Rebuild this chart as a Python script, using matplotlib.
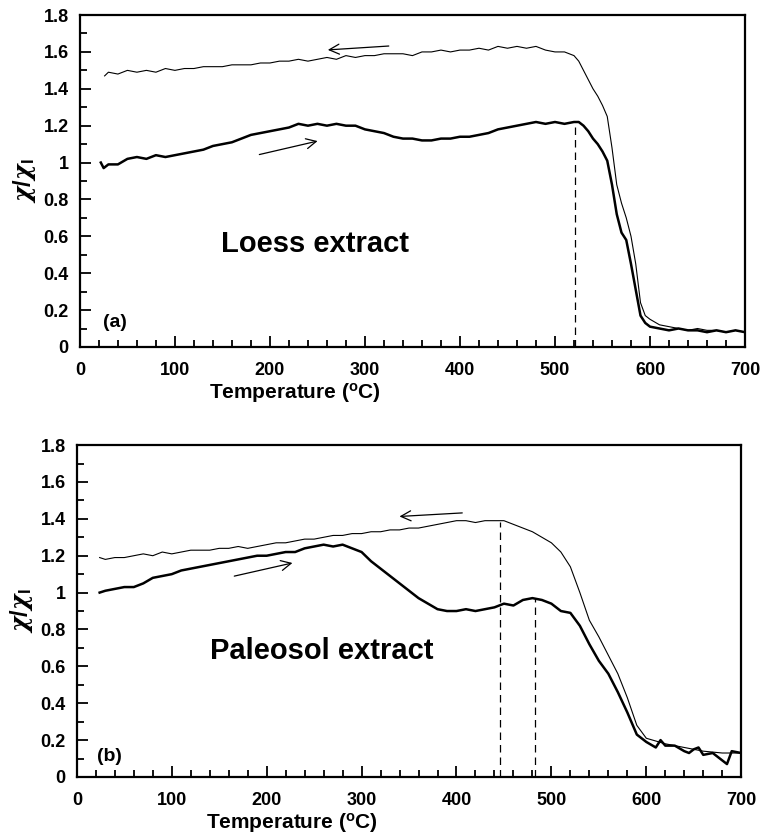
import matplotlib
matplotlib.use("Agg")
import matplotlib.pyplot as plt
from matplotlib.ticker import MultipleLocator

plt.rcParams['font.family'] = ['Liberation Sans', 'DejaVu Sans']
plt.rcParams['font.weight'] = 'bold'
plt.rcParams['mathtext.fontset'] = 'custom'
plt.rcParams['mathtext.rm'] = 'Liberation Sans:bold'
plt.rcParams['mathtext.it'] = 'DejaVu Serif:italic'

# (a) loess extract: heating (thick) and cooling (thin)
loess_heat_t = [22, 25, 30, 40, 50, 60, 70, 80, 90, 100, 110, 120, 130, 140, 150, 160, 170, 180, 190, 200,
                210, 220, 230, 240, 250, 260, 270, 280, 290, 300, 310, 320, 330, 340, 350, 360, 370, 380, 390, 400,
                410, 420, 430, 440, 450, 460, 470, 480, 490, 500, 510, 520, 525, 530, 535, 540, 545, 550, 555, 560,
                565, 570, 575, 580, 585, 590, 595, 600, 610, 620, 630, 640, 650, 660, 670, 680, 690, 700]
loess_heat_v = [1.00, 0.97, 0.99, 0.99, 1.02, 1.03, 1.02, 1.04, 1.03, 1.04, 1.05, 1.06, 1.07, 1.09, 1.10, 1.11, 1.13, 1.15, 1.16, 1.17,
                1.18, 1.19, 1.21, 1.20, 1.21, 1.20, 1.21, 1.20, 1.20, 1.18, 1.17, 1.16, 1.14, 1.13, 1.13, 1.12, 1.12, 1.13, 1.13, 1.14,
                1.14, 1.15, 1.16, 1.18, 1.19, 1.20, 1.21, 1.22, 1.21, 1.22, 1.21, 1.22, 1.22, 1.20, 1.17, 1.13, 1.10, 1.06, 1.01, 0.88,
                0.72, 0.62, 0.58, 0.45, 0.31, 0.17, 0.13, 0.11, 0.10, 0.09, 0.10, 0.09, 0.09, 0.08, 0.09, 0.08, 0.09, 0.08]

loess_cool_t = [26, 30, 40, 50, 60, 70, 80, 90, 100, 110, 120, 130, 140, 150, 160, 170, 180, 190, 200, 210,
                220, 230, 240, 250, 260, 270, 280, 290, 300, 310, 320, 330, 340, 350, 360, 370, 380, 390, 400, 410,
                420, 430, 440, 450, 460, 470, 480, 490, 500, 510, 515, 520, 525, 530, 535, 540, 545, 550, 555, 560,
                565, 570, 575, 580, 585, 590, 595, 600, 610, 620, 630, 640, 650, 660, 670, 680, 690, 700]
loess_cool_v = [1.47, 1.49, 1.48, 1.50, 1.49, 1.50, 1.49, 1.51, 1.50, 1.51, 1.51, 1.52, 1.52, 1.52, 1.53, 1.53, 1.53, 1.54, 1.54, 1.55,
                1.55, 1.56, 1.55, 1.56, 1.57, 1.56, 1.58, 1.57, 1.58, 1.58, 1.59, 1.59, 1.59, 1.58, 1.60, 1.60, 1.61, 1.60, 1.61, 1.61,
                1.62, 1.61, 1.63, 1.62, 1.63, 1.62, 1.63, 1.61, 1.60, 1.60, 1.59, 1.58, 1.55, 1.50, 1.45, 1.40, 1.36, 1.31, 1.25, 1.08,
                0.88, 0.78, 0.70, 0.60, 0.45, 0.24, 0.17, 0.15, 0.12, 0.11, 0.10, 0.09, 0.10, 0.09, 0.09, 0.08, 0.09, 0.08]

# (b) paleosol extract
paleo_heat_t = [24, 30, 40, 50, 60, 70, 80, 90, 100, 110, 120, 130, 140, 150, 160, 170, 180, 190, 200, 210,
                220, 230, 240, 250, 260, 270, 280, 290, 300, 310, 320, 330, 340, 350, 360, 370, 380, 390, 400, 410,
                420, 430, 440, 450, 460, 470, 480, 490, 500, 510, 520, 530, 540, 550, 560, 570, 580, 590, 600, 610,
                615, 620, 630, 640, 645, 650, 655, 660, 670, 680, 685, 690, 700]
paleo_heat_v = [1.00, 1.01, 1.02, 1.03, 1.03, 1.05, 1.08, 1.09, 1.10, 1.12, 1.13, 1.14, 1.15, 1.16, 1.17, 1.18, 1.19, 1.20, 1.20, 1.21,
                1.22, 1.22, 1.24, 1.25, 1.26, 1.25, 1.26, 1.24, 1.22, 1.17, 1.13, 1.09, 1.05, 1.01, 0.97, 0.94, 0.91, 0.90, 0.90, 0.91,
                0.90, 0.91, 0.92, 0.94, 0.93, 0.96, 0.97, 0.96, 0.94, 0.90, 0.89, 0.82, 0.72, 0.63, 0.56, 0.46, 0.35, 0.23, 0.19, 0.16,
                0.20, 0.17, 0.17, 0.14, 0.13, 0.15, 0.16, 0.12, 0.13, 0.09, 0.07, 0.14, 0.13]

paleo_cool_t = [24, 30, 40, 50, 60, 70, 80, 90, 100, 110, 120, 130, 140, 150, 160, 170, 180, 190, 200, 210,
                220, 230, 240, 250, 260, 270, 280, 290, 300, 310, 320, 330, 340, 350, 360, 370, 380, 390, 400, 410,
                420, 430, 440, 450, 460, 470, 480, 490, 500, 510, 520, 530, 540, 550, 560, 570, 580, 590, 600, 620,
                640, 660, 680, 700]
paleo_cool_v = [1.19, 1.18, 1.19, 1.19, 1.20, 1.21, 1.20, 1.22, 1.21, 1.22, 1.23, 1.23, 1.23, 1.24, 1.24, 1.25, 1.24, 1.25, 1.26, 1.27,
                1.27, 1.28, 1.29, 1.29, 1.30, 1.31, 1.31, 1.32, 1.32, 1.33, 1.33, 1.34, 1.34, 1.35, 1.35, 1.36, 1.37, 1.38, 1.39, 1.39,
                1.38, 1.39, 1.39, 1.39, 1.37, 1.35, 1.33, 1.30, 1.27, 1.22, 1.14, 1.00, 0.85, 0.76, 0.66, 0.56, 0.43, 0.28, 0.21, 0.18,
                0.16, 0.14, 0.13, 0.13]

# dashed markers (temperature, height)
loess_dash = [(521, 1.22)]
paleo_dash = [(446, 1.385), (483, 0.97)]

# arrows: (from, to)
loess_arrows = [((328, 1.633), (258, 1.61)), ((186, 1.04), (253, 1.12))]
paleo_arrows = [((409, 1.433), (337, 1.412)), ((163, 1.086), (230, 1.164))]

panels = [
    ([0.105, 0.585, 0.874, 0.397], loess_heat_t, loess_heat_v, loess_cool_t, loess_cool_v,
     loess_dash, loess_arrows, "Loess extract", (247, 0.557), "(a)", (24, 0.13)),
    ([0.101, 0.0706, 0.873, 0.397], paleo_heat_t, paleo_heat_v, paleo_cool_t, paleo_cool_v,
     paleo_dash, paleo_arrows, "Paleosol extract", (258, 0.683), "(b)", (21, 0.11)),
]

fig = plt.figure(figsize=(7.61, 8.36), dpi=100)

for rect, ht, hv, ct, cv, dashes, arrows, name, name_xy, lab, lab_xy in panels:
    ax = fig.add_axes(rect)
    ax.plot(ct, cv, color="black", lw=0.8)
    ax.plot(ht, hv, color="black", lw=1.8)
    for t, h in dashes:
        ax.plot([t, t], [0, h], color="black", lw=0.9, ls=(0, (6, 4)))
    for start, end in arrows:
        ax.annotate("", xy=end, xytext=start,
                    arrowprops=dict(arrowstyle="->", color="black", lw=0.9, mutation_scale=18))
    ax.text(name_xy[0], name_xy[1], name, fontsize=21, fontweight="bold", ha="center", va="center")
    ax.text(lab_xy[0], lab_xy[1], lab, fontsize=14, fontweight="bold", ha="left", va="center")

    ax.set_xlim(0, 700)
    ax.set_ylim(0, 1.8)
    ax.xaxis.set_major_locator(MultipleLocator(100))
    ax.xaxis.set_minor_locator(MultipleLocator(20))
    ax.yaxis.set_minor_locator(MultipleLocator(0.1))
    ax.set_yticks([0, 0.2, 0.4, 0.6, 0.8, 1.0, 1.2, 1.4, 1.6, 1.8])
    ax.set_yticklabels(["0", "0.2", "0.4", "0.6", "0.8", "1", "1.2", "1.4", "1.6", "1.8"])
    ax.tick_params(which="both", direction="in", top=False, right=False, labelsize=13, width=1.3)
    ax.tick_params(axis="x", which="major", length=8, pad=11)
    ax.tick_params(axis="y", which="major", length=8, pad=8)
    ax.tick_params(which="minor", length=5)
    for lbl in ax.get_xticklabels() + ax.get_yticklabels():
        lbl.set_fontweight("bold")
    for sp in ax.spines.values():
        sp.set_linewidth(1.6)
    ax.set_xlabel("Temperature ($^{\\rm o}$C)", fontsize=15, fontweight="bold", labelpad=0)
    ax.xaxis.set_label_coords(0.324, -0.103)
    ax.set_ylabel("$\\chi/\\chi_{\\rm I}$", fontsize=17, labelpad=4)

fig.savefig("out.png", dpi=100)
